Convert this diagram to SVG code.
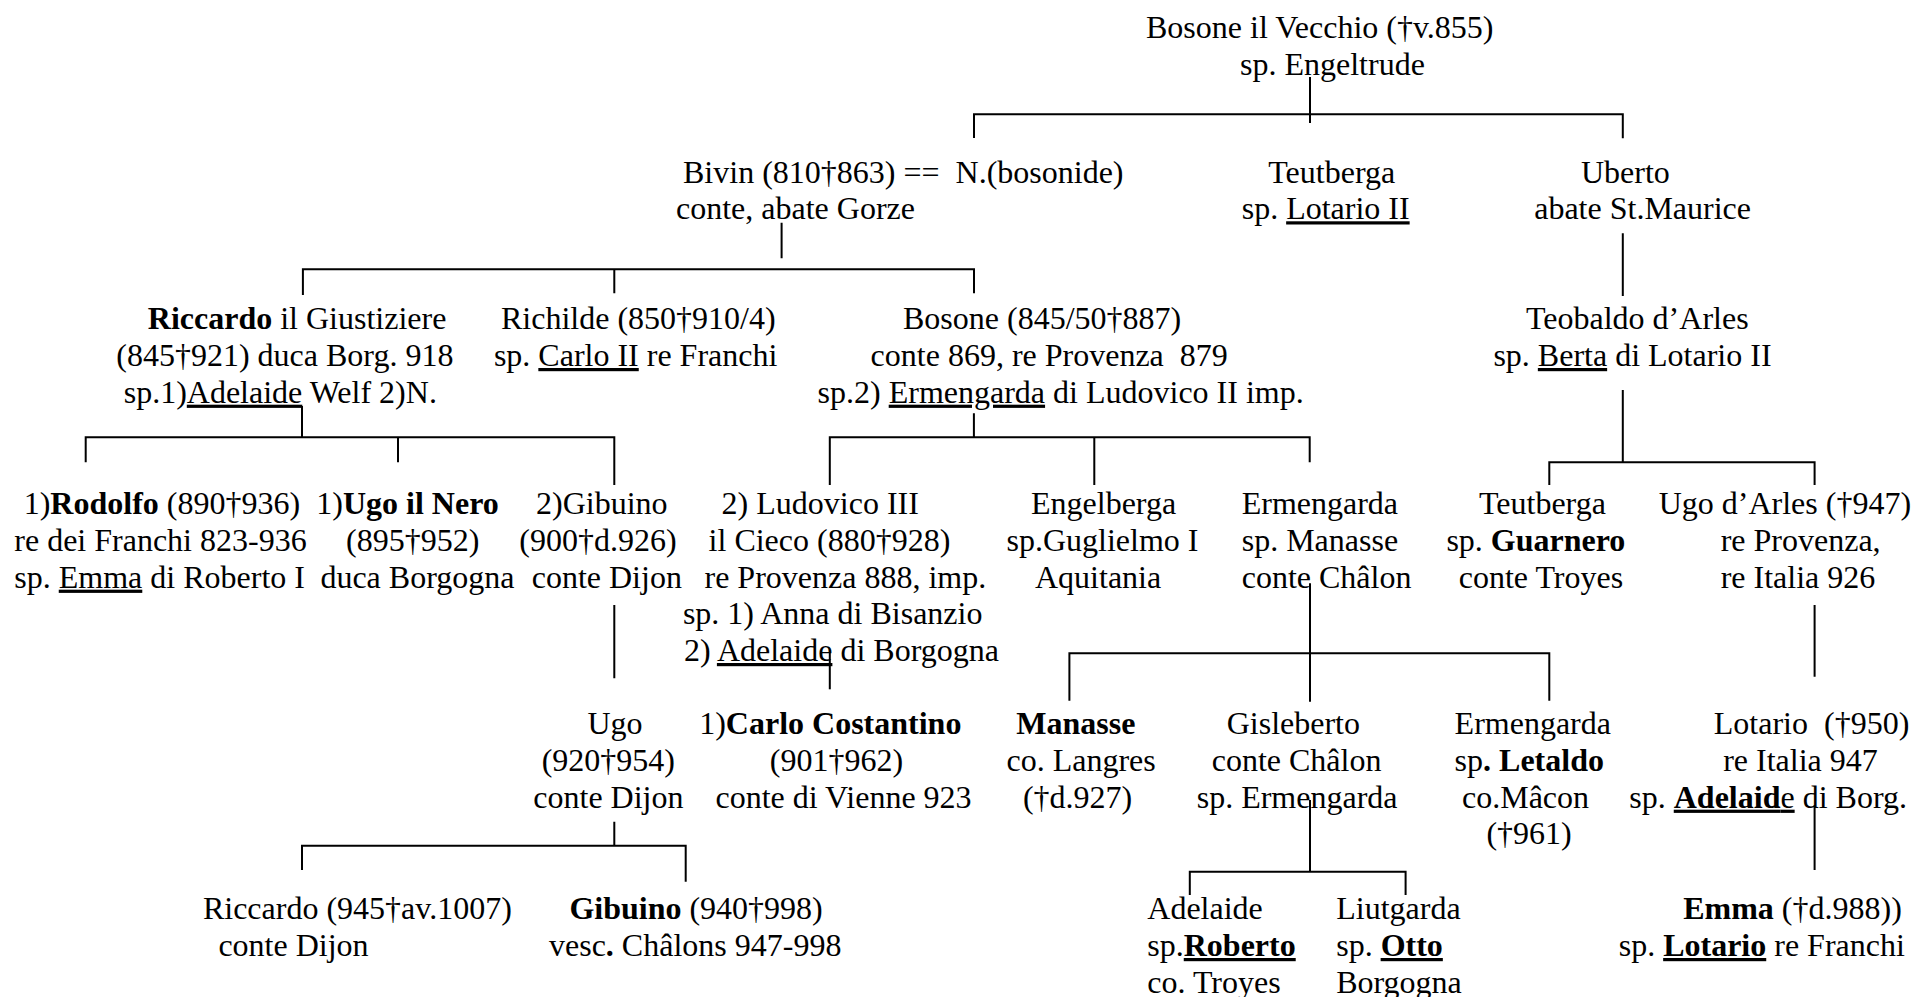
<svg xmlns="http://www.w3.org/2000/svg" width="1915" height="997" viewBox="0 0 1915 997">
<style>
text{font-family:"Liberation Serif","Times New Roman",serif;font-size:32px;fill:#000}
.b{font-weight:bold}
.u{text-decoration:underline}
#connectors path{stroke:#000;stroke-width:2;fill:none}
</style>
<rect width="1915" height="997" fill="#fff"/>
<g id="connectors">
<path d="M1310 77V123M974 138V114.3H1622.8V138.3"/>
<path d="M781.6 222.7V258.3M302.9 295V269.3H974V293.3M614.3 269.3V293.3"/>
<path d="M302 406V437.3M85.7 462.3V437.3H614.3V485M398 437.3V462.3"/>
<path d="M614.3 605V678.3M614.3 821.7V845.7M302 870V845.7H685.7V881.7"/>
<path d="M973.9 413.3V437.3M829.8 485V437.3H1309.7V462.3M1094.3 437.3V485"/>
<path d="M829.8 652V689.3"/>
<path d="M1310 583.3V701.7M1069.4 700.7V653.3H1549.3V700.7"/>
<path d="M1310 800V871.7M1189.8 895V871.7H1405.6V895"/>
<path d="M1622.8 233.3V296M1622.8 390V462.3M1549.3 485V462.3H1814.6V485"/>
<path d="M1814.6 605V676.7M1814.6 805V870"/>
</g>
<g id="n-bosone-vecchio">
<text x="1146" y="37.5">Bosone il Vecchio (†v.855)</text>
<text x="1240" y="74.5">sp. Engeltrude</text>
</g>
<g id="n-bivin">
<text x="683" y="182.7" xml:space="preserve">Bivin (810†863) ==  N.(bosonide)</text>
<text x="676" y="219.3">conte, abate Gorze</text>
</g>
<g id="n-teutberga1">
<text x="1268.3" y="182.7">Teutberga</text>
<text x="1241.7" y="219.3">sp. <tspan class="u">Lotario II</tspan></text>
</g>
<g id="n-uberto">
<text x="1581" y="182.7">Uberto</text>
<text x="1534.2" y="219.3">abate St.Maurice</text>
</g>
<g id="n-riccardo">
<text x="147.8" y="329.3"><tspan class="b">Riccardo</tspan> il Giustiziere</text>
<text x="116.3" y="366">(845†921) duca Borg. 918</text>
<text x="123.7" y="402.7">sp.1)<tspan class="u">Adelaide</tspan> Welf 2)N.</text>
</g>
<g id="n-richilde">
<text x="501" y="329.3">Richilde (850†910/4)</text>
<text x="493.9" y="366">sp. <tspan class="u">Carlo II</tspan> re Franchi</text>
</g>
<g id="n-bosone">
<text x="903" y="329.3">Bosone (845/50†887)</text>
<text x="870.6" y="366" xml:space="preserve">conte 869, re Provenza  879</text>
<text x="817.6" y="402.7">sp.2) <tspan class="u">Ermengarda</tspan> di Ludovico II imp.</text>
</g>
<g id="n-teobaldo">
<text x="1526" y="329.3">Teobaldo d’Arles</text>
<text x="1493.4" y="366">sp. <tspan class="u">Berta</tspan> di Lotario II</text>
</g>
<g id="n-rodolfo">
<text x="23.7" y="514.3">1)<tspan class="b">Rodolfo</tspan> (890†936)</text>
<text x="14.3" y="551">re dei Franchi 823-936</text>
<text x="14.3" y="587.7">sp. <tspan class="u">Emma</tspan> di Roberto I</text>
</g>
<g id="n-ugo-nero">
<text x="316.3" y="514.3">1)<tspan class="b">Ugo il Nero</tspan></text>
<text x="346" y="551">(895†952)</text>
<text x="320.4" y="587.7">duca Borgogna</text>
</g>
<g id="n-gibuino1">
<text x="536" y="514.3">2)Gibuino</text>
<text x="519.3" y="551">(900†d.926)</text>
<text x="531.7" y="587.7">conte Dijon</text>
</g>
<g id="n-ludovico">
<text x="721.6" y="514.3">2) Ludovico III</text>
<text x="708.6" y="551">il Cieco (880†928)</text>
<text x="704.5" y="587.7">re Provenza 888, imp.</text>
<text x="682.9" y="624.3">sp. 1) Anna di Bisanzio</text>
<text x="684" y="661">2) <tspan class="u">Adelaide</tspan> di Borgogna</text>
</g>
<g id="n-engelberga">
<text x="1031" y="514.3">Engelberga</text>
<text x="1006.5" y="551">sp.Guglielmo I</text>
<text x="1035" y="587.7">Aquitania</text>
</g>
<g id="n-ermengarda1">
<text x="1241.7" y="514.3">Ermengarda</text>
<text x="1241.7" y="551">sp. Manasse</text>
<text x="1241.7" y="587.7">conte Châlon</text>
</g>
<g id="n-teutberga2">
<text x="1479" y="514.3">Teutberga</text>
<text x="1446.4" y="551">sp. <tspan class="b">Guarnero</tspan></text>
<text x="1458.7" y="587.7">conte Troyes</text>
</g>
<g id="n-ugo-arles">
<text x="1658.7" y="514.3">Ugo d’Arles (†947)</text>
<text x="1720.7" y="551">re Provenza,</text>
<text x="1720.7" y="587.7">re Italia 926</text>
</g>
<g id="n-ugo">
<text x="587.5" y="734.3">Ugo</text>
<text x="541.7" y="771">(920†954)</text>
<text x="533.3" y="807.7">conte Dijon</text>
</g>
<g id="n-carlo">
<text x="699.2" y="734.3">1)<tspan class="b">Carlo Costantino</tspan></text>
<text x="769.8" y="771">(901†962)</text>
<text x="715.5" y="807.7">conte di Vienne 923</text>
</g>
<g id="n-manasse">
<text x="1016.3" y="734.3" class="b">Manasse</text>
<text x="1006.5" y="771">co. Langres</text>
<text x="1022.9" y="807.7">(†d.927)</text>
</g>
<g id="n-gisleberto">
<text x="1226.7" y="734.3">Gisleberto</text>
<text x="1211.7" y="771">conte Châlon</text>
<text x="1196.7" y="807.7">sp. Ermengarda</text>
</g>
<g id="n-ermengarda2">
<text x="1454.6" y="734.3">Ermengarda</text>
<text x="1454.6" y="771">sp<tspan class="b">. Letaldo</tspan></text>
<text x="1462" y="807.7">co.Mâcon</text>
<text x="1486.4" y="844.3">(†961)</text>
</g>
<g id="n-lotario">
<text x="1713.8" y="734.3" xml:space="preserve">Lotario  (†950)</text>
<text x="1723.2" y="771">re Italia 947</text>
<text x="1629.3" y="807.7">sp. <tspan class="u"><tspan class="b">Adelaid</tspan>e</tspan> di Borg.</text>
</g>
<g id="n-riccardo2">
<text x="202.9" y="919.3">Riccardo (945†av.1007)</text>
<text x="218.4" y="956">conte Dijon</text>
</g>
<g id="n-gibuino2">
<text x="569.4" y="919.3"><tspan class="b">Gibuino</tspan> (940†998)</text>
<text x="549" y="956">vesc<tspan class="b">.</tspan> Châlons 947-998</text>
</g>
<g id="n-adelaide">
<text x="1147.3" y="919.3">Adelaide</text>
<text x="1147.3" y="956">sp.<tspan class="b u">Roberto</tspan></text>
<text x="1147.3" y="992.7">co. Troyes</text>
</g>
<g id="n-liutgarda">
<text x="1336.2" y="919.3">Liutgarda</text>
<text x="1336.2" y="956">sp. <tspan class="b u">Otto</tspan></text>
<text x="1336.2" y="992.7">Borgogna</text>
</g>
<g id="n-emma">
<text x="1683.2" y="919.3"><tspan class="b">Emma</tspan> (†d.988))</text>
<text x="1618.7" y="956">sp. <tspan class="b u">Lotario</tspan> re Franchi</text>
</g>
</svg>
